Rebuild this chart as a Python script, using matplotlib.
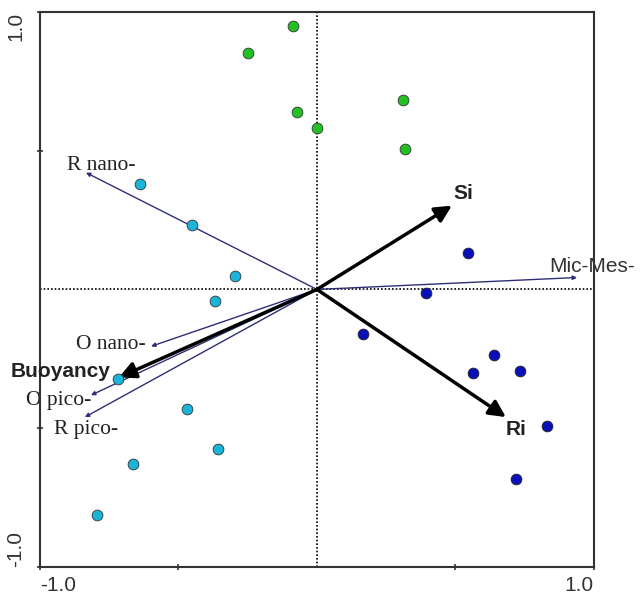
import matplotlib
matplotlib.use('Agg')
import matplotlib.pyplot as plt

# sample scores (CCA ordination), three groups
green_x = [-0.087, -0.249, -0.072, 0.0, 0.310, 0.318]
green_y = [0.950, 0.853, 0.640, 0.583, 0.683, 0.507]

cyan_x = [-0.639, -0.451, -0.296, -0.368, -0.718, -0.469, -0.357, -0.664, -0.794]
cyan_y = [0.381, 0.234, 0.050, -0.043, -0.324, -0.432, -0.576, -0.629, -0.813]

blue_x = [0.545, 0.394, 0.166, 0.639, 0.563, 0.733, 0.830, 0.718]
blue_y = [0.133, -0.014, -0.162, -0.237, -0.302, -0.295, -0.493, -0.683]

# environmental variables (bold arrows)
env_names = ['Si', 'Ri', 'Buoyancy']
env_x = [0.487, 0.682, -0.715]
env_y = [0.302, -0.460, -0.317]

# species (thin arrows)
spe_names = ['R nano-', 'O nano-', 'O pico-', 'R pico-', 'Mic-Mes-']
spe_x = [-0.834, -0.599, -0.816, -0.838, 0.939]
spe_y = [0.421, -0.205, -0.381, -0.460, 0.043]

# label placement (offset points from arrow tip, alignment)
env_offsets = {'Si': ((1, 9), 'left'), 'Ri': ((0, -9), 'left'),
               'Buoyancy': ((-6, 4), 'right')}
spe_offsets = {'R nano-': ((-14, 5), 'left'), 'O nano-': ((-4, 1), 'right'),
               'O pico-': ((0, -4), 'right'), 'R pico-': ((-22, -9), 'left'),
               'Mic-Mes-': ((-20, 8), 'left')}

fig = plt.figure(figsize=(6.42, 5.96), dpi=100)
ax = fig.add_axes([0.0623, 0.0487, 0.8629, 0.9313])
ax.set_xlim(-1, 1)
ax.set_ylim(-1, 1)

ax.axhline(0, color='black', lw=1.2, ls=(0, (1, 1.2)), zorder=1)
ax.axvline(0, color='black', lw=1.2, ls=(0, (1, 1.2)), zorder=1)

navy = '#2e2e78'
for name, x, y in zip(spe_names, spe_x, spe_y):
    ax.annotate('', xy=(x, y), xytext=(0, 0),
                arrowprops=dict(arrowstyle='-|>', lw=1, color=navy,
                                mutation_scale=6, shrinkA=0, shrinkB=0),
                zorder=2)
    off, ha = spe_offsets[name]
    if name == 'Mic-Mes-':
        fam, fs, col = 'Liberation Sans', 15, '#333333'
    else:
        fam, fs, col = 'Liberation Serif', 15.5, '#222222'
    ax.annotate(name, xy=(x, y), xytext=off, textcoords='offset points',
                ha=ha, va='center', fontsize=fs, family=fam, color=col,
                zorder=2, annotation_clip=False)

for name, x, y in zip(env_names, env_x, env_y):
    ax.annotate('', xy=(x, y), xytext=(0, 0),
                arrowprops=dict(arrowstyle='-|>', lw=2.5, color='black',
                                mutation_scale=25, shrinkA=0, shrinkB=0),
                zorder=2)
    off, ha = env_offsets[name]
    ax.annotate(name, xy=(x, y), xytext=off, textcoords='offset points',
                ha=ha, va='center', fontsize=15, family='Liberation Sans',
                fontweight='bold', color='#222222', zorder=4,
                annotation_clip=False)

ax.scatter(green_x, green_y, s=60, c='#22c022', edgecolors='#333333', linewidths=0.6, zorder=3)
ax.scatter(cyan_x, cyan_y, s=60, c='#1ab4d8', edgecolors='#333333', linewidths=0.6, zorder=3)
ax.scatter(blue_x, blue_y, s=60, c='#0a10b8', edgecolors='#222222', linewidths=0.6, zorder=3)

for s in ax.spines.values():
    s.set_color('#333333')
    s.set_linewidth(1.5)

ax.set_xticks([-1, -0.5, 0.5, 1])
ax.set_xticklabels(['-1.0', '', '', '1.0'])
ax.set_yticks([-1, -0.5, 0.5, 1])
ax.set_yticklabels(['-1.0', '', '', '1.0'])
ax.tick_params(direction='inout', length=5, width=1.2, color='#333333',
               labelsize=15, labelcolor='#333333')
ax.tick_params(axis='x', pad=4)
ax.tick_params(axis='y', pad=8)
for lab in ax.get_xticklabels():
    lab.set_family('Liberation Sans')
xl = ax.get_xticklabels()
xl[0].set_ha('left')
xl[-1].set_ha('right')
for lab in ax.get_yticklabels():
    lab.set_family('Liberation Sans')
    lab.set_rotation(90)
yl = ax.get_yticklabels()
yl[0].set_va('bottom')
yl[-1].set_va('top')

fig.savefig('out.png', dpi=100)
